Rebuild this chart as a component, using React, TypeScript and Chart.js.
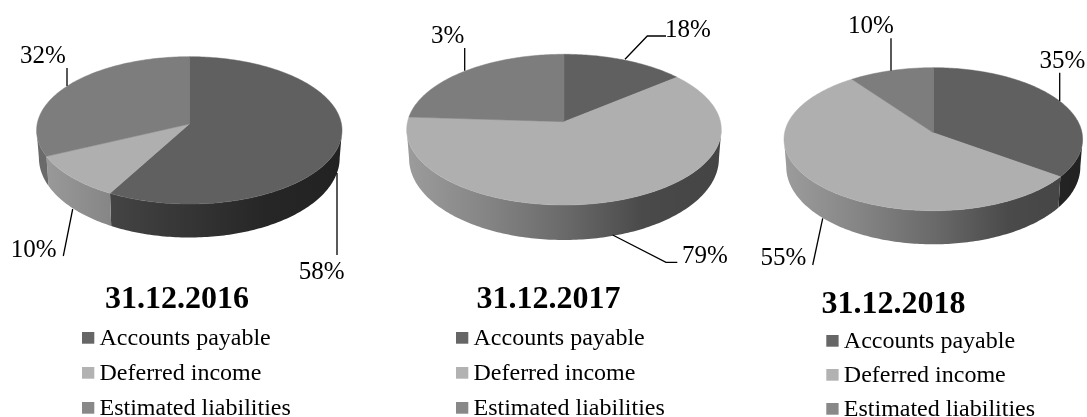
import React, { useEffect, useRef } from "react";
import { Chart, PieController, ArcElement, Title } from "chart.js";

const categories = ["Accounts payable", "Deferred income", "Estimated liabilities"];
const dates = ["31.12.2016", "31.12.2017", "31.12.2018"];
// slice sizes as they are drawn in the picture
const slices2016 = [58, 10, 32];
const slices2017 = [14, 62, 24];
const slices2018 = [35, 55, 10];
// percentages as they are printed next to the slices
const printed2016 = [58, 10, 32];
const printed2017 = [18, 79, 3];
const printed2018 = [35, 55, 10];

const topColors = ["#606060", "#afafaf", "#7d7d7d"];
const swatchColors = ["#666666", "#b2b2b2", "#888888"];
const wallStops: [number, string][][] = [
  [[0, "#505050"], [0.24, "#444444"], [0.75, "#262626"], [1, "#222222"]],
  [[0, "#9c9c9c"], [0.24, "#868686"], [0.5, "#6a6a6a"], [0.75, "#4a4a4a"], [1, "#444444"]],
  [[0, "#6a6a6a"], [1, "#6a6a6a"]],
];

const FONT = '"Liberation Serif", "Times New Roman", serif';

type Layout = {
  left: number; width: number;
  ax: number; ay: number; rx: number; top: number; bottom: number; depth: number;
  titleTop: number;
  legendX: number; legendY: number[];
  labels: [number, number][];
  leaders: [number, number][][];
};

const layouts: Layout[] = [
  {
    left: 0, width: 354, ax: 189.3, ay: 124, rx: 152.7, top: 56.7, bottom: 204, depth: 33.5,
    titleTop: 280.5, legendX: 82, legendY: [338, 373, 408],
    labels: [[321.7, 279.3], [33.7, 256.7], [43, 62.7]],
    leaders: [[[337, 173], [337, 255]], [[72.7, 209], [63.3, 256]], [[67, 68], [67, 86]]],
  },
  {
    left: 358, width: 381, ax: 564, ay: 121.7, rx: 157.3, top: 54.3, bottom: 205, depth: 35,
    titleTop: 280.5, legendX: 456, legendY: [338, 373, 408],
    labels: [[688, 37.3], [705, 263.3], [447.7, 42.7]],
    leaders: [[[625, 59.3], [647.3, 36], [666, 36]], [[612.7, 235], [666, 262.3], [677.3, 262.3]], [[464.7, 48], [464.7, 70.7]]],
  },
  {
    left: 700, width: 387, ax: 933.3, ay: 132.7, rx: 149.3, top: 67.7, bottom: 210.7, depth: 33.6,
    titleTop: 285.5, legendX: 826.3, legendY: [341, 375, 409],
    labels: [[1062.3, 67.7], [783.3, 265], [871, 32.7]],
    leaders: [[[1059.7, 72.7], [1059.7, 101]], [[822.7, 218.3], [812.7, 265]], [[891, 38.3], [891, 70.7]]],
  },
];

function tilt(l: Layout) {
  const a1 = l.ay - l.top;
  const a2 = l.bottom - l.ay;
  return (a2 - a1) / (a2 + a1);
}

function projector(l: Layout) {
  const a1 = l.ay - l.top;
  const k = tilt(l);
  const B = a1 * (1 + k);
  const A = l.rx * Math.sqrt(1 - k * k);
  const ax = l.ax - l.left;
  return (t: number, wall: boolean): [number, number] => {
    const s = Math.sin(t);
    const w = 1 - k * s;
    const x = (A * Math.cos(t)) / w;
    const y = (B * s) / w;
    return wall
      ? [ax + x * 0.985, l.ay + y + l.depth * (0.8 + 0.2 * s)]
      : [ax + x, l.ay + y];
  };
}

class Pie3DController extends PieController {
  static id = "pie3d";
  static defaults = PieController.defaults;
  static overrides = PieController.overrides;
  draw() {
    const ctx = this.chart.ctx;
    const l: Layout = (this.getDataset() as any).layout;
    const p = projector(l);
    const edge = Math.asin(tilt(l));
    const arcs = this._cachedMeta.data as any[];
    const step = Math.PI / 180;
    ctx.save();
    // side wall: only the part of each slice facing the viewer
    arcs.forEach((arc, i) => {
      const s = Math.max(arc.startAngle, edge);
      const e = Math.min(arc.endAngle, Math.PI - edge);
      if (e <= s) return;
      const g = ctx.createLinearGradient(l.ax - l.left - l.rx, 0, l.ax - l.left + l.rx, 0);
      wallStops[i].forEach(([o, c]) => g.addColorStop(o, c));
      ctx.beginPath();
      for (let t = s; t < e; t += step) ctx.lineTo(...p(t, false));
      ctx.lineTo(...p(e, false));
      for (let t = e; t > s; t -= step) ctx.lineTo(...p(t, true));
      ctx.lineTo(...p(s, true));
      ctx.closePath();
      ctx.fillStyle = g;
      ctx.fill();
    });
    // top face
    arcs.forEach((arc, i) => {
      ctx.beginPath();
      ctx.moveTo(l.ax - l.left, l.ay);
      for (let t = arc.startAngle; t < arc.endAngle; t += step) ctx.lineTo(...p(t, false));
      ctx.lineTo(...p(arc.endAngle, false));
      ctx.closePath();
      ctx.fillStyle = topColors[i];
      ctx.strokeStyle = topColors[i];
      ctx.lineWidth = 0.5;
      ctx.fill();
      ctx.stroke();
    });
    ctx.restore();
  }
}

const annotations = {
  id: "annotations",
  afterDatasetsDraw(chart: any) {
    const ds = chart.data.datasets[0];
    const l: Layout = ds.layout;
    const ctx = chart.ctx;
    ctx.save();
    ctx.strokeStyle = "#000";
    ctx.lineWidth = 1.3;
    l.leaders.forEach((pts) => {
      ctx.beginPath();
      pts.forEach(([x, y]) => ctx.lineTo(x - l.left, y));
      ctx.stroke();
    });
    ctx.fillStyle = "#000";
    ctx.textBaseline = "alphabetic";
    ctx.textAlign = "center";
    ctx.font = `25px ${FONT}`;
    ds.printed.forEach((v: number, i: number) => {
      ctx.fillText(`${v}%`, l.labels[i][0] - l.left, l.labels[i][1]);
    });
    ctx.textAlign = "left";
    ctx.font = `24px ${FONT}`;
    chart.data.labels.forEach((name: string, i: number) => {
      const y = l.legendY[i];
      ctx.fillStyle = swatchColors[i];
      ctx.fillRect(l.legendX - l.left, y - 6, 12.3, 11.7);
      ctx.fillStyle = "#000";
      ctx.fillText(name, l.legendX - l.left + 17.5, y + 7);
    });
    ctx.restore();
  },
};

Chart.register(PieController, Pie3DController as any, ArcElement, Title);

function One({ index, values, printed }: { index: number; values: number[]; printed: number[] }) {
  const ref = useRef<HTMLCanvasElement>(null);
  const l = layouts[index];
  useEffect(() => {
    const chart = new Chart(ref.current as HTMLCanvasElement, {
      type: "pie3d" as any,
      data: {
        labels: categories,
        datasets: [{ data: values, backgroundColor: topColors, borderWidth: 0, layout: l, printed } as any],
      },
      options: {
        responsive: false,
        animation: false,
        plugins: {
          legend: { display: false },
          tooltip: { enabled: false },
          title: {
            display: true,
            text: dates[index],
            color: "#000",
            font: { family: FONT, size: 32, weight: "bold" },
            padding: { top: l.titleTop, bottom: 0 },
          },
        },
      },
      plugins: [annotations],
    } as any);
    return () => chart.destroy();
  }, []);
  return (
    <canvas
      ref={ref}
      width={l.width}
      height={417}
      style={{ position: "absolute", left: l.left, top: 0, width: l.width, height: 417 }}
    />
  );
}

export default function App() {
  return (
    <div style={{ position: "absolute", left: 0, top: 0, width: 1087, height: 417, background: "#fff", overflow: "hidden" }}>
      <One index={0} values={slices2016} printed={printed2016} />
      <One index={1} values={slices2017} printed={printed2017} />
      <One index={2} values={slices2018} printed={printed2018} />
    </div>
  );
}
